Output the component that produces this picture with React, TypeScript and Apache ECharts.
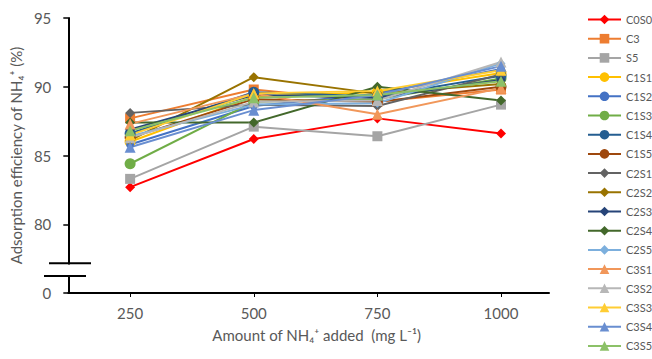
import React, { useEffect, useRef } from "react";
import * as echarts from "echarts";

const xValues = [250, 500, 750, 1000];
const yTicks = [75, 80, 85, 90, 95];

const seriesNames = [
  "C0S0", "C3", "S5", "C1S1", "C1S2", "C1S3", "C1S4", "C1S5", "C2S1",
  "C2S2", "C2S3", "C2S4", "C2S5", "C3S1", "C3S2", "C3S3", "C3S4", "C3S5",
];

const C0S0 = [82.7, 86.2, 87.7, 86.6];
const C3 = [87.7, 89.8, 88.9, 89.8];
const S5 = [83.3, 87.1, 86.4, 88.7];
const C1S1 = [86.0, 89.3, 89.6, 91.0];
const C1S2 = [85.8, 88.6, 89.5, 91.3];
const C1S3 = [84.4, 88.9, 89.1, 90.6];
const C1S4 = [86.6, 89.6, 89.3, 90.8];
const C1S5 = [86.3, 89.1, 88.9, 90.0];
const C2S1 = [88.1, 88.7, 88.6, 90.9];
const C2S2 = [86.1, 90.7, 89.5, 90.2];
const C2S3 = [86.9, 89.4, 89.2, 90.5];
const C2S4 = [87.4, 87.4, 90.0, 89.0];
const C2S5 = [86.4, 88.7, 88.8, 91.7];
const C3S1 = [87.3, 89.5, 88.0, 89.9];
const C3S2 = [86.3, 88.9, 89.0, 91.8];
const C3S3 = [86.5, 89.5, 89.7, 91.2];
const C3S4 = [85.6, 88.3, 89.4, 91.5];
const C3S5 = [86.8, 89.2, 89.4, 90.4];

const seriesValues = [
  C0S0, C3, S5, C1S1, C1S2, C1S3, C1S4, C1S5, C2S1,
  C2S2, C2S3, C2S4, C2S5, C3S1, C3S2, C3S3, C3S4, C3S5,
];

const colors = [
  "#FF0000", "#ED7D31", "#A5A5A5", "#FFC000", "#4472C4", "#70AD47", "#255E91", "#9E480E", "#636363",
  "#997300", "#264478", "#43682B", "#7CAFDD", "#F1975A", "#B7B7B7", "#FFCD33", "#698ED0", "#8CC168",
];

const symbols = [
  "diamond", "rect", "rect", "circle", "circle", "circle", "circle", "circle", "diamond",
  "diamond", "diamond", "diamond", "diamond", "triangle", "triangle", "triangle", "triangle", "triangle",
];

const symbolSizes = [10, 10, 10, 11, 8, 11, 11, 11, 10, 10, 10, 10, 9, 11, 11, 11, 11, 11];

const FONT = "Lato, 'Open Sans', sans-serif";
const GRAY = "#595959";

export default function App() {
  const ref = useRef<HTMLDivElement>(null);

  useEffect(() => {
    if (!ref.current) return;
    const chart = echarts.init(ref.current, null, { renderer: "svg" });
    const series = seriesNames.map((name, i) => ({
      name,
      type: "line",
      data: xValues.map((x, j) => [x, seriesValues[i][j]]),
      symbol: symbols[i],
      symbolSize: symbolSizes[i],
      showAllSymbol: true,
      lineStyle: { color: colors[i], width: 2 },
      itemStyle: { color: colors[i] },
      emphasis: { disabled: true },
    }));

    chart.setOption({
      animation: false,
      textStyle: { fontFamily: FONT },
      grid: { left: 66, right: 103, top: 18, bottom: 79 },
      xAxis: {
        type: "value",
        min: 125,
        max: 1097,
        name: "Amount of NH₄⁺ added  (mg L⁻¹)",
        nameLocation: "middle",
        nameGap: 34,
        nameTextStyle: { color: GRAY, fontSize: 15, fontFamily: FONT, padding: [0, 0, 0, 16] },
        axisLine: { lineStyle: { color: "#000", width: 2 } },
        axisTick: { show: true, length: 4, lineStyle: { color: "#000", width: 1 }, customValues: xValues },
        axisLabel: {
          color: GRAY,
          fontSize: 15,
          margin: 12,
          customValues: xValues,
          formatter: (v: number) => String(v),
        },
        splitLine: { show: false },
      },
      yAxis: {
        type: "value",
        min: yTicks[0],
        max: yTicks[yTicks.length - 1],
        interval: 5,
        name: "Adsorption efficiency of NH₄⁺ (%)",
        nameLocation: "middle",
        nameGap: 42,
        nameTextStyle: { color: GRAY, fontSize: 15, fontFamily: FONT },
        axisLine: { show: true, lineStyle: { color: "#000", width: 2 } },
        axisTick: { show: true, length: 5, lineStyle: { color: "#000", width: 1.5 } },
        axisLabel: {
          color: GRAY,
          fontSize: 15,
          margin: 17,
          formatter: (v: number) => (v === yTicks[0] ? "0" : String(v)),
        },
        splitLine: { show: false },
      },
      legend: {
        orient: "vertical",
        left: 587,
        top: 14,
        padding: 0,
        itemWidth: 33,
        itemHeight: 12,
        itemGap: 8.2,
        textStyle: { color: GRAY, fontSize: 11, fontFamily: FONT },
        data: seriesNames,
      },
      graphic: [
        { type: "rect", z: 100, shape: { x: 60, y: 264.5, width: 12, height: 10.5 }, style: { fill: "#fff" } },
        { type: "line", z: 101, shape: { x1: 49, y1: 263.3, x2: 91, y2: 263.3 }, style: { stroke: "#000", lineWidth: 2 } },
        { type: "line", z: 101, shape: { x1: 44, y1: 276, x2: 86, y2: 276 }, style: { stroke: "#000", lineWidth: 2 } },
      ],
      series,
    });
    return () => chart.dispose();
  }, []);

  return <div ref={ref} style={{ width: 652, height: 372, position: "absolute", left: 0, top: 0 }} />;
}
